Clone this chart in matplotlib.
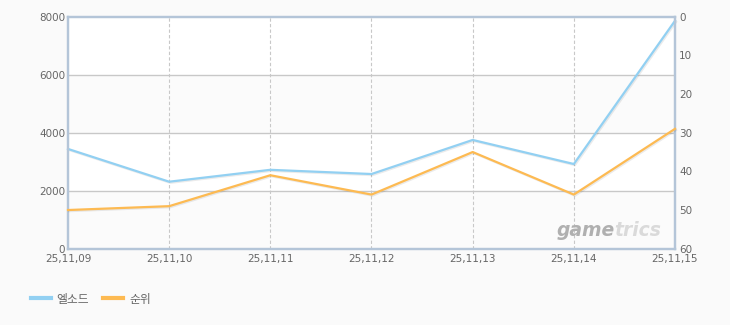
import matplotlib
matplotlib.use("Agg")
import matplotlib.pyplot as plt
import matplotlib.patheffects as pe

plt.rcParams['font.family'] = ['DejaVu Sans', 'Noto Sans CJK KR']

dates = ["25,11,09", "25,11,10", "25,11,11", "25,11,12", "25,11,13", "25,11,14", "25,11,15"]
elsword = [3440, 2310, 2720, 2575, 3750, 2920, 7860]
rank = [50, 49, 41, 46, 35, 46, 29]
left_ticks = [0, 2000, 4000, 6000, 8000]
right_ticks = [0, 10, 20, 30, 40, 50, 60]
series_names = ["엘소드", "순위"]

W, H = 730, 325
fig = plt.figure(figsize=(W / 100, H / 100), dpi=100)
fig.patch.set_facecolor("#fafafa")

l, r, t, b = 68, 675, 16.7, 248.7
ax = fig.add_axes([l / W, 1 - b / H, (r - l) / W, (b - t) / H])
ax.set_facecolor("white")
x = list(range(len(dates)))

ax.set_xlim(0, len(dates) - 1)
ax.set_ylim(0, 8000)
for lo in (0, 4000):
    ax.axhspan(lo, lo + 2000, color="#fbfbfb", zorder=0, lw=0)
for v in left_ticks[1:-1]:
    ax.axhline(v, color="#c8c8c8", lw=1, zorder=1)
for xi in x[1:-1]:
    ax.axvline(xi, color="#c8c8c8", lw=0.8, ls=(0, (3, 2)), zorder=1)

ax.set_yticks(left_ticks)
ax.set_xticks(x)
ax.set_xticklabels(dates)
ax.tick_params(axis="both", length=0, labelsize=7.5, labelcolor="#666666")
ax.tick_params(axis="x", pad=4)
ax.tick_params(axis="y", pad=2)
for s in ax.spines.values():
    s.set_color("#b4c5d8")
    s.set_linewidth(1.6)

shadow = [pe.SimpleLineShadow(offset=(0.8, -0.8), alpha=0.08), pe.Normal()]
blue = "#92d0f2"
orange = "#fdba52"
l1, = ax.plot(x, elsword, color=blue, lw=1.6, zorder=4, path_effects=shadow, clip_on=False)

ax2 = ax.twinx()
ax2.set_ylim(60, 0)
ax2.set_yticks(right_ticks)
ax2.tick_params(axis="y", length=0, labelsize=7.5, labelcolor="#666666", pad=3)
for s in ax2.spines.values():
    s.set_color("#b4c5d8")
    s.set_linewidth(1.6)
l2, = ax2.plot(x, rank, color=orange, lw=1.6, zorder=4, path_effects=shadow, clip_on=False)

# watermark
t1 = fig.text(557 / W, 1 - 236 / H, "game", fontsize=13.5, fontweight="bold", style="italic",
              color="#b0b0b0", ha="left", va="baseline")
fig.canvas.draw()
ext = t1.get_window_extent()
fig.text(ext.x1 / W - 1 / W, 1 - 236 / H, "trics", fontsize=13.5, fontweight="bold", style="italic",
         color="#dadada", ha="left", va="baseline")

leg = fig.legend([l1, l2], series_names, loc="center left", bbox_to_anchor=(20 / W, 1 - 299 / H),
                 ncol=2, frameon=False, fontsize=8.5, handlelength=1.7, handletextpad=0.5,
                 columnspacing=1.2, labelcolor="#666666")
for h in leg.get_lines():
    h.set_linewidth(3)
    h.set_path_effects([])

fig.savefig("out.png", dpi=100, facecolor=fig.get_facecolor())
